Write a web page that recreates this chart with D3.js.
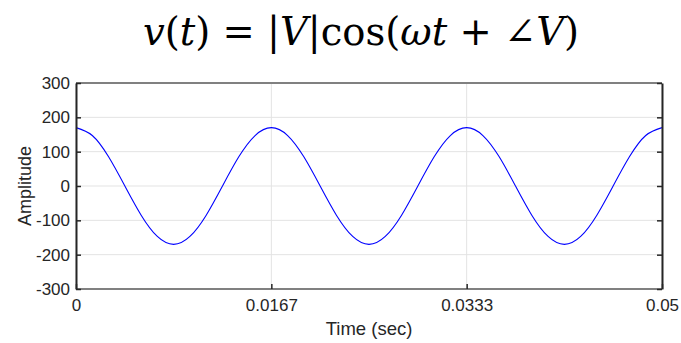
<!DOCTYPE html>
<html>
<head>
<meta charset="utf-8">
<script src="https://cdn.jsdelivr.net/npm/d3@7"></script>
<style>
  body { margin: 0; background: #fff; }
  svg { display: block; }
  .tick text { font-family: "Liberation Sans", Arial, sans-serif; font-size: 17px; fill: #262626; }
</style>
</head>
<body>
<svg id="chart" width="681" height="343"></svg>
<script>
var times = [0, 0.00139, 0.00278, 0.00417, 0.00556, 0.00694, 0.00833, 0.00972, 0.01111, 0.0125,
    0.01389, 0.01528, 0.01667, 0.01806, 0.01944, 0.02083, 0.02222, 0.02361, 0.025, 0.02639,
    0.02778, 0.02917, 0.03056, 0.03194, 0.03333, 0.03472, 0.03611, 0.0375, 0.03889, 0.04028,
    0.04167, 0.04306, 0.04444, 0.04583, 0.04722, 0.04861, 0.05]
var amplitude = [170, 147, 85, 0, -85, -147, -170, -147, -85, 0,
    85, 147, 170, 147, 85, 0, -85, -147, -170, -147,
    -85, 0, 85, 147, 170, 147, 85, 0, -85, -147,
    -170, -147, -85, 0, 85, 147, 170]
var xTicks = [0, 0.016667, 0.033333, 0.05]
var xTickLabels = ["0", "0.0167", "0.0333", "0.05"]
var yTicks = [-300, -200, -100, 0, 100, 200, 300]

function drawChart() {
    var svg = d3.select("#chart")
    var pl = 76, pr = 662, pt = 83, pb = 289

    var x = d3.scaleLinear().domain([0, 0.05]).range([pl, pr])
    var y = d3.scaleLinear().domain([-300, 300]).range([pb, pt])

    //grid
    var grid = svg.append("g")
    grid.selectAll(".hgrid").data(yTicks).enter().append("line")
        .attr("x1", pl).attr("x2", pr)
        .attr("y1", function(d) { return y(d) }).attr("y2", function(d) { return y(d) })
        .attr("stroke", "#e3e3e3").attr("stroke-width", 1)
    grid.selectAll(".vgrid").data(xTicks).enter().append("line")
        .attr("y1", pt).attr("y2", pb)
        .attr("x1", function(d) { return x(d) }).attr("x2", function(d) { return x(d) })
        .attr("stroke", "#e3e3e3").attr("stroke-width", 1)

    // the wave
    var line = d3.line()
        .x(function(d, i) { return x(times[i]) })
        .y(function(d) { return y(d) })
        .curve(d3.curveNatural)

    svg.append("path")
        .datum(amplitude)
        .attr("d", line)
        .attr("fill", "none")
        .attr("stroke", "#0000ff")
        .attr("stroke-width", 1.1)

    // box: top and bottom gray, left/right dark
    svg.append("line").attr("x1", pl).attr("x2", pr).attr("y1", pt).attr("y2", pt)
        .attr("stroke", "#808080").attr("stroke-width", 2)
    svg.append("line").attr("x1", pl).attr("x2", pr).attr("y1", pb).attr("y2", pb)
        .attr("stroke", "#808080").attr("stroke-width", 2)

    var yAxis = svg.append("g")
        .attr("transform", "translate(" + pl + ",0)")
        .call(d3.axisLeft(y).tickValues(yTicks).tickSizeInner(-5).tickSizeOuter(0).tickPadding(6)
            .tickFormat(function(d) { return String(d) }))
    var yAxisR = svg.append("g")
        .attr("transform", "translate(" + pr + ",0)")
        .call(d3.axisRight(y).tickValues(yTicks).tickSizeInner(-5).tickSizeOuter(0).tickFormat(""))
    var xAxis = svg.append("g")
        .attr("transform", "translate(0," + pb + ")")
        .call(d3.axisBottom(x).tickValues(xTicks).tickSizeInner(-5).tickSizeOuter(0).tickPadding(10)
            .tickFormat(function(d, i) { return xTickLabels[i] }))

    yAxis.select(".domain").attr("stroke", "#262626").attr("stroke-width", 2)
    yAxisR.select(".domain").attr("stroke", "#262626").attr("stroke-width", 2)
    xAxis.select(".domain").remove()
    svg.selectAll(".tick line").attr("stroke", "#262626").attr("stroke-width", 1.5)

    // labels
    svg.append("text")
        .attr("x", (pl + pr) / 2).attr("y", 335)
        .attr("text-anchor", "middle")
        .style("font-family", "Liberation Sans, Arial, sans-serif").style("font-size", "18.5px")
        .attr("fill", "#262626")
        .text("Time (sec)")

    svg.append("text")
        .attr("transform", "translate(31," + (pt + pb) / 2 + ") rotate(-90)")
        .attr("text-anchor", "middle")
        .style("font-family", "Liberation Sans, Arial, sans-serif").style("font-size", "18px")
        .attr("fill", "#262626")
        .text("Amplitude")

    // title
    var title = svg.append("text")
        .attr("x", 361).attr("y", 45)
        .attr("text-anchor", "middle")
        .style("font-family", "DejaVu Serif, serif").style("font-size", "38.5px")
        .attr("fill", "#000")
    var parts = [["v", true], ["(", false], ["t", true], [") = |", false], ["V", true], ["|cos(", false],
        ["ωt", true], [" + ∠", false], ["V", true], [")", false]]
    parts.forEach(function(p) {
        title.append("tspan").style("font-style", p[1] ? "italic" : "normal").text(p[0])
    })
}

drawChart()
</script>
</body>
</html>
